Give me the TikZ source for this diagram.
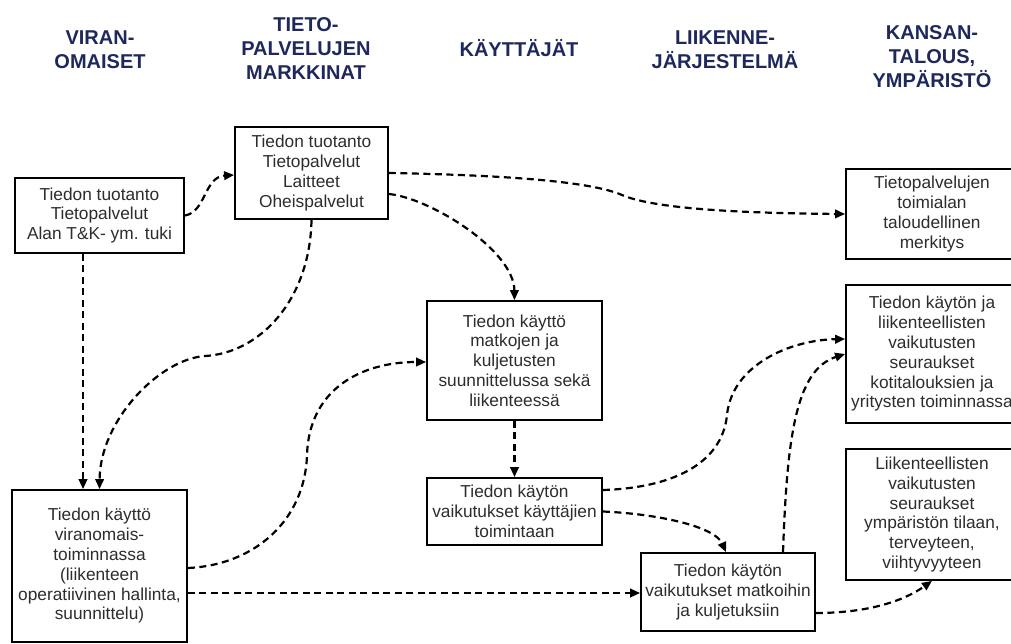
\documentclass[tikz,border=0pt]{standalone}
\usepackage{fontspec}
\setmainfont{Liberation Sans}
\usetikzlibrary{arrows.meta}
\definecolor{headnavy}{RGB}{30,40,92}
\definecolor{boxtext}{RGB}{45,45,45}
\begin{document}
\begin{tikzpicture}[x=1pt,y=1pt,
  head/.style={text=headnavy, font=\fontsize{20}{24}\selectfont\bfseries, align=center, inner sep=0pt},
  infobox/.style={draw=black, line width=1.8pt, text=boxtext, align=center, inner sep=0pt,
    font=\fontsize{17.3}{19.8}\selectfont},
  flow/.style={draw=black, line width=2.2pt, dash pattern=on 7pt off 4.5pt,
    -{Triangle[length=10pt,width=8.5pt]}}
]
\useasboundingbox (0,0) rectangle (1011,-644);
\clip (0,0) rectangle (1011,-644);
\fill[white] (0,0) rectangle (1011,-644);

% column headings
\node[head] (h1) at (100,-50) {VIRAN-\\OMAISET};
\node[head] (h2) at (306,-49) {TIETO-\\PALVELUJEN\\MARKKINAT};
\node[head] (h3) at (519,-48) {KÄYTTÄJÄT};
\node[head] (h4) at (725,-50) {LIIKENNE-\\JÄRJESTELMÄ};
\node[head] (h5) at (932,-57) {KANSAN-\\TALOUS,\\YMPÄRISTÖ};

% boxes
\node[infobox, minimum width=169pt, minimum height=75pt] (b1) at (99.5,-215.5)
  {Tiedon tuotanto\\Tietopalvelut\\Alan T\&K- ym. tuki};
\node[infobox, minimum width=153pt, minimum height=92pt] (b2) at (311.5,-173)
  {Tiedon tuotanto\\Tietopalvelut\\Laitteet\\Oheispalvelut};
\node[infobox, minimum width=172pt, minimum height=90pt] (b3) at (932,-214)
  {Tietopalvelujen\\toimialan\\taloudellinen\\merkitys};
\node[infobox, minimum width=172pt, minimum height=138pt] (b4) at (932,-354)
  {Tiedon käytön ja\\liikenteellisten\\vaikutusten\\seuraukset\\kotitalouksien ja\\yritysten toiminnassa};
\node[infobox, minimum width=172pt, minimum height=131pt] (b5) at (932,-514.5)
  {Liikenteellisten\\vaikutusten\\seuraukset\\ympäristön tilaan,\\terveyteen,\\viihtyvyyteen};
\node[infobox, minimum width=175pt, minimum height=119pt] (b6) at (514.5,-360.5)
  {Tiedon käyttö\\matkojen ja\\kuljetusten\\suunnittelussa sekä\\liikenteessä};
\node[infobox, minimum width=175pt, minimum height=67pt] (b7) at (514.5,-511.5)
  {Tiedon käytön\\vaikutukset käyttäjien\\toimintaan};
\node[infobox, minimum width=175pt, minimum height=152pt] (b8) at (99.5,-566)
  {Tiedon käyttö\\viranomais-\\toiminnassa\\(liikenteen\\operatiivinen hallinta,\\suunnittelu)};
\node[infobox, minimum width=174pt, minimum height=78pt] (b9) at (728,-592)
  {Tiedon käytön\\vaikutukset matkoihin\\ja kuljetuksiin};

% connectors
\draw[flow] (b1.east) .. controls (206,-212) and (204,-177) .. ([yshift=-2pt]b2.west);
\draw[flow] (b2.east) .. controls (500,-175) and (590,-181) .. (622,-195)
  .. controls (650,-207) and (720,-213) .. (b3.west);
\draw[flow] ([yshift=-21pt]b2.east) .. controls (430,-198) and (514,-250) .. (b6.north);
\draw[flow] ([xshift=-16.5pt]b1.south) -- ([xshift=-16.5pt]b8.north);
\draw[flow] (b2.south) .. controls (310,-300) and (260,-353) .. (205,-356)
  .. controls (160,-359) and (100,-420) .. (b8.north);
\draw[flow] ([yshift=-2pt]b8.east) .. controls (255,-565) and (305,-520) .. (307,-455)
  .. controls (309,-390) and (360,-362) .. ([yshift=-1.5pt]b6.west);
\draw[flow] ([yshift=-27pt]b8.east) -- ([yshift=-1pt]b9.west);
\draw[flow] (b6.south) -- (b7.north);
\draw[flow] ([yshift=21.5pt]b7.east) .. controls (670,-488) and (722,-465) .. (727,-415)
  .. controls (732,-365) and (790,-340) .. ([yshift=15pt]b4.west);
\draw[flow] (b7.east) .. controls (660,-514) and (715,-527) .. ([xshift=-2pt]b9.north);
\draw[flow] ([xshift=55pt]b9.north) .. controls (787,-440) and (795,-370) .. (b4.west);
\draw[flow] ([yshift=-21pt]b9.east) .. controls (870,-613) and (905,-600) .. (b5.south);
\end{tikzpicture}
\end{document}
